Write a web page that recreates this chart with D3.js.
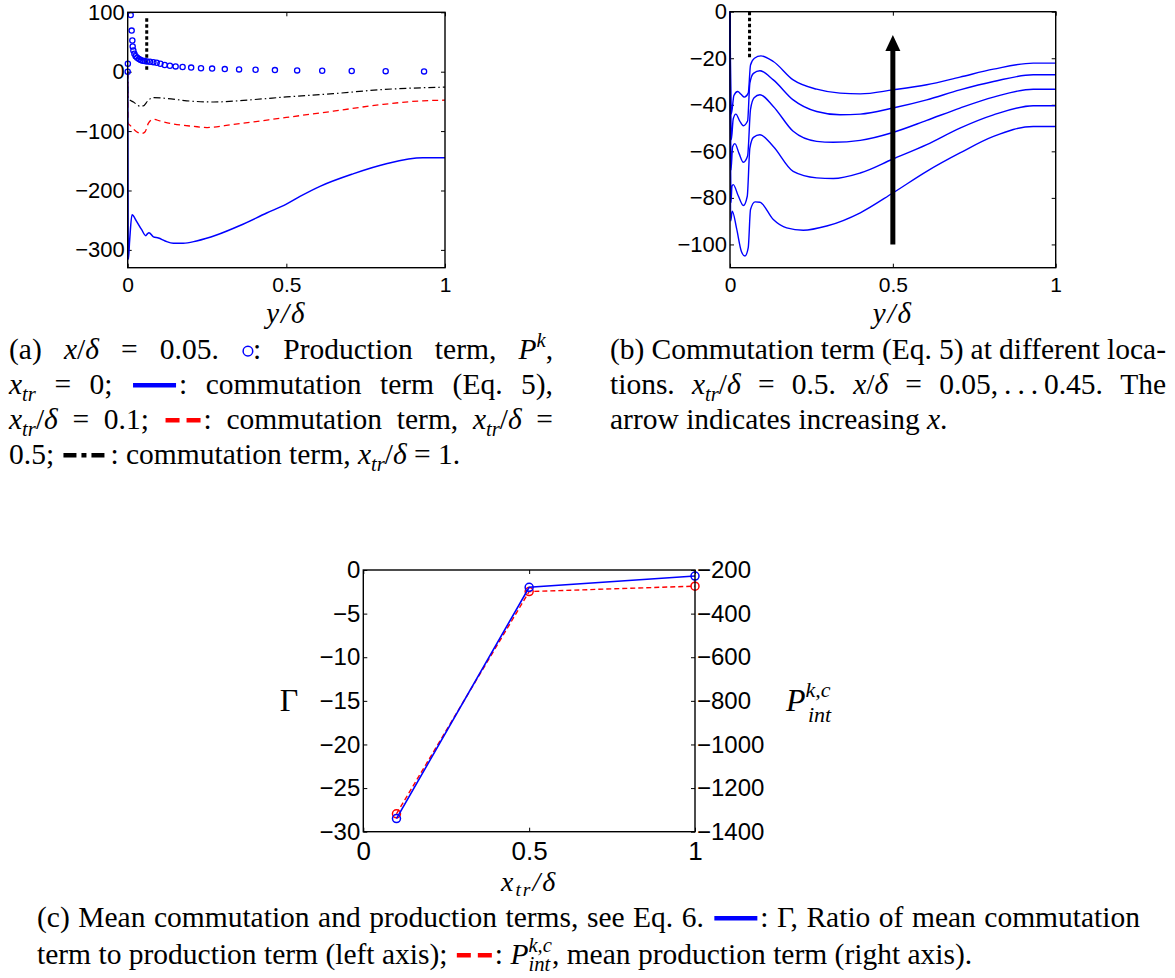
<!DOCTYPE html>
<html>
<head>
<meta charset="utf-8">
<script src="https://d3js.org/d3.v7.min.js"></script>
<style>
body { margin: 0; background: #fff; }
svg { display: block; }
</style>
</head>
<body>
<svg id="fig" width="1175" height="978"></svg>
<script>

// ---- panel (a): x/delta = 0.05 ----
var prodX = [0, 0.0005, 0.0094, 0.0125, 0.0146, 0.0157, 0.0178, 0.021, 0.025, 0.030, 0.0356, 0.041, 0.047,
             0.0535, 0.0608, 0.0703, 0.081, 0.0914, 0.103, 0.1166, 0.133, 0.151, 0.173, 0.2, 0.231, 0.266,
             0.306, 0.351, 0.403, 0.464, 0.534, 0.613, 0.706, 0.813, 0.934];
var prodY = [0, 13.4, 95.4, 69.2, 52.4, 42.4, 35.7, 30.1, 26.2, 23.4, 21.2, 19.5, 18.4,
             17.8, 17.3, 16.7, 16.1, 15, 13.4, 11.2, 10, 8.9, 7.8, 6.9, 5.8, 5.2,
             4.4, 3.9, 3.3, 2.7, 2.2, 1.6, 1.1, 0.9, 0.5];

var commA01 = [[0, 0], [0.002, -316], [0.006, -285], [0.0136, -241], [0.028, -252], [0.044, -266], [0.057, -276],
               [0.062, -273], [0.067, -271], [0.081, -278], [0.097, -280], [0.118, -285], [0.144, -289],
               [0.175, -289], [0.217, -285], [0.28, -275], [0.354, -259], [0.438, -238], [0.5, -223],
               [0.543, -210], [0.606, -193], [0.71, -172], [0.815, -155], [0.93, -145], [1.0, -145]];
var commA05 = [[0, 0], [0.001, -87], [0.007, -90], [0.028, -101], [0.044, -104], [0.055, -101], [0.065, -87],
               [0.081, -80], [0.102, -83], [0.144, -88], [0.207, -92], [0.25, -94], [0.331, -89],
               [0.5, -77], [0.648, -66.5], [0.805, -55], [0.93, -49], [1.0, -48]];
var commA10 = [[0, 0], [0.001, -45], [0.018, -51], [0.039, -58], [0.049, -57.6], [0.065, -48], [0.081, -43.6],
               [0.123, -45], [0.186, -49], [0.27, -51], [0.396, -47], [0.5, -42.5], [0.648, -37],
               [0.805, -30], [0.93, -27], [1.0, -26]];
var markA = [[0.06, 90], [0.06, 0]];

// ---- panel (b): x/delta = 0.05 ... 0.45, top curve = largest x ----
var commB = [
  [[0, 0], [0.004, -44], [0.012, -36], [0.0235, -34.3], [0.034, -35.5], [0.044, -36.7], [0.056, -35], [0.063, -22.9],
   [0.075, -20], [0.095, -19], [0.133, -21.4], [0.194, -29.3], [0.266, -33.3], [0.338, -35], [0.4, -35.3],
   [0.5, -33.6], [0.604, -31.4], [0.706, -28.1], [0.809, -24.7], [0.931, -22.1], [1.0, -22.1]],
  [[0, 0], [0.004, -55], [0.010, -46], [0.018, -44], [0.03, -47], [0.041, -49], [0.054, -47], [0.061, -30.7],
   [0.072, -26.5], [0.092, -25.4], [0.133, -29.3], [0.194, -37.9], [0.266, -42.9], [0.338, -44.3], [0.4, -44],
   [0.5, -41.4], [0.604, -37.9], [0.706, -33.6], [0.809, -30], [0.931, -27.1], [1.0, -27.1]],
  [[0, 0], [0.003, -68], [0.008, -58], [0.015, -56.7], [0.028, -61], [0.041, -64.7], [0.054, -62], [0.063, -42],
   [0.074, -37], [0.092, -35.7], [0.133, -40.7], [0.194, -51.4], [0.266, -55.7], [0.317, -56.1], [0.4, -55.3],
   [0.5, -51.9], [0.604, -46.7], [0.706, -41.4], [0.809, -36.7], [0.931, -33.3], [1.0, -33.3]],
  [[0, 0], [0.003, -82], [0.006, -75], [0.010, -74.3], [0.025, -79], [0.041, -83.3], [0.053, -79.3], [0.061, -58.6],
   [0.072, -54], [0.092, -52.9], [0.133, -57.9], [0.194, -68.6], [0.266, -71.4], [0.317, -71.7], [0.4, -69.3],
   [0.5, -63.3], [0.604, -57.1], [0.706, -50], [0.809, -44.3], [0.931, -40.4], [1.0, -40.4]],
  [[0, 0], [0.002, -90], [0.007, -85.7], [0.02, -93], [0.035, -103], [0.046, -105], [0.056, -101.4], [0.063, -85],
   [0.077, -81.7], [0.092, -81.9], [0.133, -89.3], [0.174, -92.9], [0.225, -93.9], [0.297, -92.1], [0.4, -86.4],
   [0.5, -77.9], [0.604, -68.6], [0.706, -60.7], [0.809, -53.6], [0.931, -49.3], [1.0, -49.3]]
];
var markB = [[0.06, 0], [0.06, -20]];
var arrowB = [[0.5, -100], [0.5, -10]];

// ---- panel (c): mean terms vs x_tr ----
var xtr = [0.1, 0.5, 1];
var gamma = [-28.5, -1.98, -0.69];
var pint = [-1318, -299, -274];

// ticks
var ticksA = [100, 0, -100, -200, -300];
var ticksB = [0, -20, -40, -60, -80, -100];
var ticksCL = [0, -5, -10, -15, -20, -25, -30];
var ticksCR = [-200, -400, -600, -800, -1000, -1200, -1400];
var ticksX = [0, 0.5, 1];

// captions
var capA = [
  "(a) {i:x}/{i:δ} = 0.05. {m:circle}: Production term, {i:P}{^:k},",
  "{i:x}{_:tr} = 0; {m:blue}: commutation term (Eq. 5),",
  "{i:x}{_:tr}/{i:δ} = 0.1; {m:red}: commutation term, {i:x}{_:tr}/{i:δ} =",
  "0.5; {m:dashdot}: commutation term, {i:x}{_:tr}/{i:δ} = 1."
];
var capB = [
  "(b) Commutation term (Eq. 5) at different loca-",
  "tions. {i:x}{_:tr}/{i:δ} = 0.5. {i:x}/{i:δ} = 0.05,\u2009.\u2009.\u2009.\u20090.45. The",
  "arrow indicates increasing {i:x}."
];
var capC = [
  "(c) Mean commutation and production terms, see Eq. 6. {m:blue}: Γ, Ratio of mean commutation",
  "term to production term (left axis); {m:red}: {i:P}{^:k,c}{_:int}, mean production term (right axis)."
];

var svg = d3.select("#fig");
var sans = "Liberation Sans, Arial, Helvetica, sans-serif";
var serif = "Liberation Serif, Times New Roman, serif";
var fmt = function (d) { return d < 0 ? "\u2212" + Math.abs(d) : String(d); };

function frame(box, xDom, yDom, yTicks, fx, fy, padX) {
  var x = d3.scaleLinear().domain(xDom).range([box.l, box.r]);
  var y = d3.scaleLinear().domain(yDom).range([box.b, box.t]);
  var g = svg.append("g");
  var ax = [
    [d3.axisBottom(x).tickValues(ticksX).tickFormat(fmt).tickPadding(padX), "translate(0," + box.b + ")", fx],
    [d3.axisTop(x).tickValues(ticksX).tickFormat(""), "translate(0," + box.t + ")", 0],
    [d3.axisLeft(y).tickValues(yTicks).tickFormat(fmt).tickPadding(3), "translate(" + box.l + ",0)", fy],
    [d3.axisRight(y).tickValues(yTicks).tickFormat(""), "translate(" + box.r + ",0)", 0]
  ];
  ax.forEach(function (a, i) {
    if (i === 3 && box.noRight) return;
    var s = g.append("g").attr("transform", a[1]).call(a[0].tickSize(-4));
    s.select(".domain").remove();
    s.selectAll("line").attr("stroke", "#000").attr("stroke-width", 1);
    s.selectAll("text").attr("font-family", sans).attr("font-size", a[2]).attr("fill", "#000");
  });
  return {x: x, y: y, g: g};
}

function box(g, b) {
  g.append("rect").attr("x", b.l).attr("y", b.t).attr("width", b.r - b.l).attr("height", b.b - b.t)
    .attr("fill", "none").attr("stroke", "#000").attr("stroke-width", 1.4);
}

function mathLabel(x, y, parts, fs) {
  var t = svg.append("text").attr("x", x).attr("y", y).attr("text-anchor", "middle")
    .attr("font-family", serif).attr("font-size", fs).attr("font-style", "italic")
    .attr("letter-spacing", 2);
  parts.forEach(function (p) {
    var s = t.append("tspan").text(p[0]);
    if (p[1] === "sub") s.attr("font-size", fs * 0.7).attr("dy", fs * 0.18);
    if (p[1] === "back") s.attr("dy", -fs * 0.18);
  });
}

// ---------- panel (a) ----------
var bA = {l: 127.7, r: 445, t: 12.3, b: 267.7};
var A = frame(bA, [0, 1], [-330, 100], ticksA, 21, 22, 9);
var lineA = d3.line().x(function (d) { return A.x(d[0]); }).y(function (d) { return A.y(d[1]); })
  .curve(d3.curveMonotoneX);
A.g.append("path").attr("d", lineA(commA10)).attr("fill", "none").attr("stroke", "#000")
  .attr("stroke-width", 1.2).attr("stroke-dasharray", "7,3,1.5,3");
A.g.append("path").attr("d", lineA(commA05)).attr("fill", "none").attr("stroke", "#ff0000")
  .attr("stroke-width", 1.3).attr("stroke-dasharray", "6,4");
A.g.append("path").attr("d", lineA(commA01)).attr("fill", "none").attr("stroke", "#0000ff")
  .attr("stroke-width", 1.5);
A.g.append("path").attr("d", d3.line()(markA.map(function (d) { return [A.x(d[0]), A.y(d[1])]; })))
  .attr("stroke", "#000").attr("stroke-width", 3).attr("stroke-dasharray", "3.5,2.5");
A.g.selectAll("circle.p").data(prodX).enter().append("circle")
  .attr("cx", function (d) { return A.x(d); })
  .attr("cy", function (d, i) { return A.y(prodY[i]); })
  .attr("r", 2.6).attr("fill", "none").attr("stroke", "#0000ff").attr("stroke-width", 1.3);
box(A.g, bA);
mathLabel((bA.l + bA.r) / 2, 323, [["y/δ"]], 29);

// ---------- panel (b) ----------
var bB = {l: 730, r: 1055.7, t: 11.7, b: 267.7};
var B = frame(bB, [0, 1], [-110, 0], ticksB, 21, 22, 9);
var lineB = d3.line().x(function (d) { return B.x(d[0]); }).y(function (d) { return B.y(d[1]); })
  .curve(d3.curveMonotoneX);
B.g.selectAll("path.c").data(commB).enter().append("path")
  .attr("d", function (d) { return lineB(d); })
  .attr("fill", "none").attr("stroke", "#0000ff").attr("stroke-width", 1.4);
B.g.append("path").attr("d", d3.line()(markB.map(function (d) { return [B.x(d[0]), B.y(d[1])]; })))
  .attr("stroke", "#000").attr("stroke-width", 3).attr("stroke-dasharray", "3.5,2.5");
var ax0 = B.x(arrowB[0][0]), ay0 = B.y(arrowB[0][1]), ay1 = B.y(arrowB[1][1]);
B.g.append("line").attr("x1", ax0).attr("x2", ax0).attr("y1", ay0).attr("y2", ay1 + 14)
  .attr("stroke", "#000").attr("stroke-width", 5);
B.g.append("path").attr("d", "M" + ax0 + "," + ay1 + "L" + (ax0 - 7.5) + "," + (ay1 + 16) + "L" + (ax0 + 7.5) + "," + (ay1 + 16) + "Z")
  .attr("fill", "#000");
box(B.g, bB);
mathLabel((bB.l + bB.r) / 2, 323, [["y/δ"]], 29);

// ---------- panel (c) ----------
var bC = {l: 363.3, r: 695, t: 570, b: 831.7, noRight: true};
var C = frame(bC, [0, 1], [-30, 0], ticksCL, 26, 24, 10);
var yR = d3.scaleLinear().domain([-1400, -200]).range([bC.b, bC.t]);
var sR = C.g.append("g").attr("transform", "translate(" + bC.r + ",0)")
  .call(d3.axisRight(yR).tickValues(ticksCR).tickFormat(fmt).tickSize(-4).tickPadding(2));
sR.select(".domain").remove();
sR.selectAll("line").attr("stroke", "#000");
sR.selectAll("text").attr("font-family", sans).attr("font-size", 24).attr("fill", "#000");

var lineP = d3.line().x(function (d, i) { return C.x(xtr[i]); }).y(function (d) { return yR(d); });
var lineG = d3.line().x(function (d, i) { return C.x(xtr[i]); }).y(function (d) { return C.y(d); });
C.g.append("path").attr("d", lineP(pint)).attr("fill", "none").attr("stroke", "#ff0000")
  .attr("stroke-width", 1.4).attr("stroke-dasharray", "5,3");
C.g.selectAll("circle.r").data(pint).enter().append("circle")
  .attr("cx", function (d, i) { return C.x(xtr[i]); }).attr("cy", function (d) { return yR(d); })
  .attr("r", 4).attr("fill", "none").attr("stroke", "#ff0000").attr("stroke-width", 1.5);
C.g.append("path").attr("d", lineG(gamma)).attr("fill", "none").attr("stroke", "#0000ff")
  .attr("stroke-width", 1.6);
C.g.selectAll("circle.b").data(gamma).enter().append("circle")
  .attr("cx", function (d, i) { return C.x(xtr[i]); }).attr("cy", function (d) { return C.y(d); })
  .attr("r", 4).attr("fill", "none").attr("stroke", "#0000ff").attr("stroke-width", 1.5);
box(C.g, bC);

svg.append("text").attr("x", 289).attr("y", 711).attr("text-anchor", "middle")
  .attr("font-family", serif).attr("font-size", 32).text("Γ");
var pl = svg.append("text").attr("x", 786).attr("y", 711).attr("font-family", serif)
  .attr("font-size", 32).attr("font-style", "italic");
pl.append("tspan").text("P");
pl.append("tspan").attr("font-size", 22).attr("dy", -14).text("k,c");
pl.append("tspan").attr("font-size", 22).attr("x", 808).attr("dy", 25).text("int");
mathLabel((bC.l + bC.r) / 2, 891, [["x"], ["tr", "sub"], ["/δ", "back"]], 28);

// ---------- captions ----------
function drawMarker(g, kind, cx, fs) {
  var my = -0.3 * fs;
  if (kind === "circle") {
    g.append("circle").attr("cx", cx + 7).attr("cy", my + 1).attr("r", 4.8)
      .attr("fill", "none").attr("stroke", "#0000ff").attr("stroke-width", 1.5);
    return cx + 12;
  }
  var m = {blue: ["#0000ff", null, 43], red: ["#ff0000", "14,7", 35], dashdot: ["#000", "13,5,5,5", 44]}[kind];
  var l = g.append("line").attr("x1", cx + 2).attr("x2", cx + 2 + m[2]).attr("y1", my).attr("y2", my)
    .attr("stroke", m[0]).attr("stroke-width", 4.5);
  if (m[1]) l.attr("stroke-dasharray", m[1]);
  return cx + m[2] + 5;
}

function drawWord(g, str, fs) {
  var re = /\{([im^_]):([^}]*)\}|([^{]+)/g, p, cx = 0, supStart = null, supEnd = 0;
  while ((p = re.exec(str))) {
    var k = p[3] ? "r" : p[1], t = p[3] ? p[3] : p[2];
    if (k === "m") { cx = drawMarker(g, t, cx, fs); supStart = null; continue; }
    var size = fs, dy = 0, st = k === "r" ? "normal" : "italic";
    if (k === "^") { size = fs * 0.7; dy = -0.42 * fs; }
    if (k === "_") { size = fs * 0.7; dy = 0.24 * fs; }
    var x0 = (k === "_" && supStart !== null) ? supStart : cx;
    var el = g.append("text").attr("x", x0).attr("y", dy).attr("font-family", serif)
      .attr("font-size", size).attr("font-style", st).attr("fill", "#000").text(t);
    var w = el.node().getComputedTextLength();
    if (k === "^") { supStart = cx; cx += w; supEnd = cx; }
    else if (k === "_" && supStart !== null) { cx = Math.max(supEnd, x0 + w); supStart = null; }
    else { cx = x0 + w; supStart = null; }
  }
  return cx;
}

function caption(lines, x0, x1, y0, lh, fs) {
  lines.forEach(function (ln, li) {
    var g = svg.append("g");
    var words = ln.split(" ");
    var gs = words.map(function (w) {
      var wg = g.append("g");
      return {g: wg, w: drawWord(wg, w, fs)};
    });
    var tot = d3.sum(gs, function (d) { return d.w; });
    var last = li === lines.length - 1;
    var gap = last ? fs * 0.25 : (x1 - x0 - tot) / (gs.length - 1);
    var cx = x0;
    gs.forEach(function (d) {
      d.g.attr("transform", "translate(" + cx + "," + (y0 + li * lh) + ")");
      cx += d.w + gap;
    });
  });
}

caption(capA, 9, 553, 359, 35, 29.5);
caption(capB, 610, 1166, 359, 35, 29.5);
caption(capC, 37, 1140, 927, 37, 29.5);

</script>
</body>
</html>
